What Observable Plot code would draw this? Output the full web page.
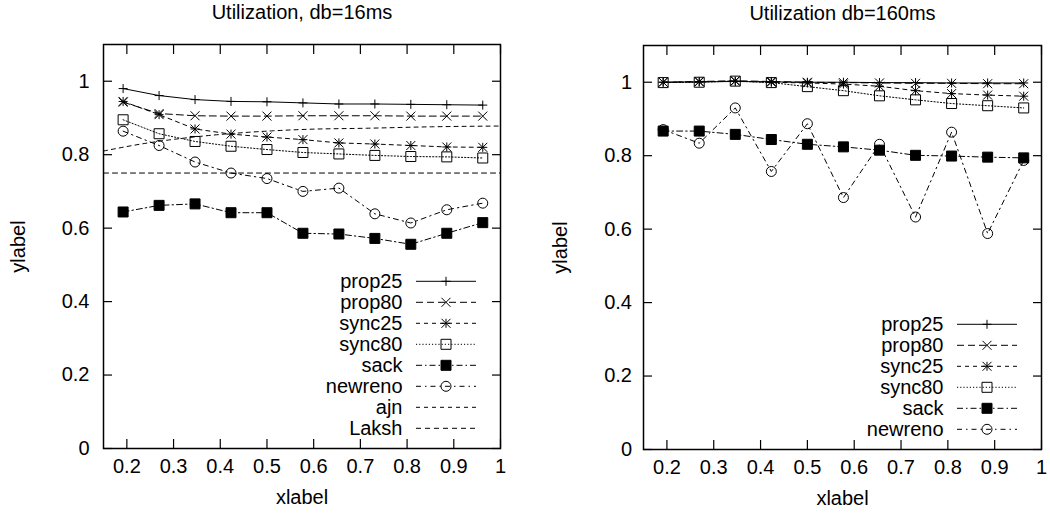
<!DOCTYPE html>
<html><head><meta charset="utf-8">
<script src="https://cdn.jsdelivr.net/npm/d3@7"></script>
<script src="https://cdn.jsdelivr.net/npm/@observablehq/plot@0.6"></script>
<style>
body{margin:0;background:#fff;}
#wrap{position:relative;width:1050px;height:514px;overflow:hidden;}
#wrap > div{position:absolute;top:0;}
</style></head><body>
<div id="wrap"><div id="a" style="left:0"></div><div id="b" style="left:525px"></div></div>
<script>
// ---------- data ----------
const xValues = [0.192, 0.269, 0.346, 0.423, 0.5, 0.577, 0.654, 0.731, 0.808, 0.885, 0.962];
const xTicks = [0.2, 0.3, 0.4, 0.5, 0.6, 0.7, 0.8, 0.9, 1];
const yTicks = [0, 0.2, 0.4, 0.6, 0.8, 1];

// db = 16ms
const prop25_16  = [0.980, 0.961, 0.950, 0.945, 0.944, 0.941, 0.938, 0.938, 0.937, 0.936, 0.935];
const prop80_16  = [0.943, 0.912, 0.906, 0.905, 0.905, 0.906, 0.906, 0.906, 0.905, 0.905, 0.905];
const sync25_16  = [0.945, 0.909, 0.870, 0.856, 0.848, 0.841, 0.832, 0.829, 0.825, 0.821, 0.820];
const sync80_16  = [0.895, 0.857, 0.836, 0.823, 0.814, 0.806, 0.802, 0.798, 0.795, 0.794, 0.791];
const sack_16    = [0.644, 0.662, 0.666, 0.642, 0.642, 0.586, 0.584, 0.572, 0.556, 0.586, 0.615];
const newreno_16 = [0.864, 0.825, 0.780, 0.750, 0.735, 0.700, 0.709, 0.639, 0.614, 0.650, 0.668];
const ajnX  = [0.15, 0.25, 0.343, 0.428, 0.513, 0.585, 0.714, 0.856, 1.0];
const ajnY  = [0.810, 0.833, 0.848, 0.858, 0.865, 0.869, 0.872, 0.876, 0.878];
const lakshX = [0.15, 1.0];
const lakshY = [0.75, 0.75];

// db = 160ms
const prop25_160  = [1.000, 1.001, 1.002, 1.001, 1.000, 1.000, 0.999, 0.999, 0.998, 0.998, 0.998];
const prop80_160  = [1.000, 1.002, 1.004, 1.002, 1.000, 0.999, 0.998, 0.997, 0.997, 0.996, 0.996];
const sync25_160  = [1.000, 1.001, 1.003, 1.000, 0.998, 0.995, 0.989, 0.977, 0.969, 0.965, 0.962];
const sync80_160  = [0.999, 1.000, 1.003, 0.999, 0.988, 0.977, 0.963, 0.952, 0.942, 0.936, 0.930];
const sack_160    = [0.867, 0.867, 0.858, 0.844, 0.831, 0.824, 0.815, 0.801, 0.799, 0.796, 0.794];
const newreno_160 = [0.871, 0.834, 0.930, 0.757, 0.887, 0.686, 0.831, 0.633, 0.864, 0.588, 0.787];

// ---------- styles ----------
const H = 4.5;
const symPlus  = {draw(c){c.moveTo(-H,0);c.lineTo(H,0);c.moveTo(0,-H);c.lineTo(0,H);}};
const symTimes = {draw(c){c.moveTo(-H,-H);c.lineTo(H,H);c.moveTo(-H,H);c.lineTo(H,-H);}};
const symStar  = {draw(c){symPlus.draw(c);symTimes.draw(c);}};
const symSquare= {draw(c){c.rect(-5,-5,10,10);}};
const symCircle= {draw(c){c.moveTo(5,0);c.arc(0,0,5,0,2*Math.PI);}};

const STYLE = {
  prop25:  {dash: null,        sym: symPlus,   fill: "none"},
  prop80:  {dash: "7,4",       sym: symTimes,  fill: "none"},
  sync25:  {dash: "4,4",       sym: symStar,   fill: "none"},
  sync80:  {dash: "1.2,2",     sym: symSquare, fill: "none"},
  sack:    {dash: "6,3,1.5,3", sym: symSquare, fill: "black"},
  newreno: {dash: "5,4,1.5,4", sym: symCircle, fill: "none"},
  ajn:     {dash: "4,4",       sym: null},
  Laksh:   {dash: "5,4",       sym: null}
};
const FONT = "Liberation Sans, Arial, Helvetica, sans-serif";
const FS = 20;

function legendMark(names) {
  return (index, scales, values, dim) => {
    const g = d3.create("svg:g").attr("font-family", FONT).attr("font-size", FS);
    const right = dim.width - dim.marginRight;
    const bottom = dim.height - dim.marginBottom;
    const n = names.length;
    names.forEach((name, i) => {
      const y = bottom - 19.7 - 21 * (n - 1 - i);
      const st = STYLE[name];
      g.append("text").attr("x", right - 97.5).attr("y", y).attr("dy", "0.35em")
        .attr("text-anchor", "end").attr("fill", "black").text(name);
      g.append("line").attr("x1", right - 84).attr("x2", right - 24).attr("y1", y).attr("y2", y)
        .attr("stroke", "black").attr("stroke-width", 1).attr("stroke-dasharray", st.dash);
      if (st.sym) {
        const p = d3.path(); st.sym.draw(p);
        g.append("path").attr("d", p.toString()).attr("transform", `translate(${right - 54},${y})`)
          .attr("fill", st.fill).attr("stroke", "black").attr("stroke-width", 1);
      }
    });
    return g.node();
  };
}

function panel(el, {title, series, extras, width, marginLeft, marginRight, marginTop, marginBottom, ylabDx, ytickPad}) {
  const marks = [];
  for (const [name, xs, ys] of extras) {
    marks.push(Plot.line(ys.map((v, i) => ({x: xs[i], y: v})),
      {x: "x", y: "y", stroke: "black", strokeWidth: 1, strokeDasharray: STYLE[name].dash, curve: "monotone-x"}));
  }
  for (const [name, ys] of series) {
    const rows = ys.map((v, i) => ({x: xValues[i], y: v}));
    const st = STYLE[name];
    marks.push(Plot.line(rows, {x: "x", y: "y", stroke: "black", strokeWidth: 1, strokeDasharray: st.dash}));
    marks.push(Plot.dot(rows, {x: "x", y: "y", symbol: st.sym, r: 5, fill: st.fill, stroke: "black", strokeWidth: 1}));
  }
  marks.push(
    Plot.frame({stroke: "black", strokeWidth: 1.5}),
    Plot.axisX({ticks: xTicks, anchor: "bottom", tickSize: -9, tickPadding: 19, tickFormat: d => String(d), fontSize: FS, fontFamily: FONT, label: null, strokeWidth: 1.2}),
    Plot.axisX({ticks: xTicks, anchor: "top", tickSize: -9, tickFormat: () => "", label: null, strokeWidth: 1.2}),
    Plot.axisY({ticks: yTicks, anchor: "left", tickSize: -9, tickPadding: ytickPad, tickFormat: d => String(d), fontSize: FS, fontFamily: FONT, label: null, strokeWidth: 1.2}),
    Plot.axisY({ticks: yTicks, anchor: "right", tickSize: -9, tickFormat: () => "", label: null, strokeWidth: 1.2}),
    Plot.text([title], {text: d => d, frameAnchor: "top", lineAnchor: "middle", dy: -31.5, fontSize: FS, fontFamily: FONT, fill: "black"}),
    Plot.text(["xlabel"], {text: d => d, frameAnchor: "bottom", lineAnchor: "middle", dy: 49, fontSize: FS, fontFamily: FONT, fill: "black"}),
    Plot.text(["ylabel"], {text: d => d, frameAnchor: "left", textAnchor: "middle", lineAnchor: "middle", dx: ylabDx, rotate: -90, fontSize: FS, fontFamily: FONT, fill: "black"}),
    legendMark([...series.map(s => s[0]), ...extras.map(e => e[0])])
  );
  const chart = Plot.plot({
    width, height: 514, marginLeft, marginRight, marginTop, marginBottom,
    style: {fontFamily: FONT, fontSize: FS + "px", background: "white", color: "black", overflow: "visible"},
    x: {domain: [0.15, 1]},
    y: {domain: [0, 1.1]},
    marks
  });
  el.appendChild(chart);
}

panel(document.getElementById("a"), {
  title: "Utilization, db=16ms",
  series: [["prop25", prop25_16], ["prop80", prop80_16], ["sync25", sync25_16], ["sync80", sync80_16], ["sack", sack_16], ["newreno", newreno_16]],
  extras: [["ajn", ajnX, ajnY], ["Laksh", lakshX, lakshY]],
  width: 525, marginLeft: 103, marginRight: 25, marginTop: 44, marginBottom: 66, ylabDx: -85, ytickPad: 23
});
panel(document.getElementById("b"), {
  title: "Utilization db=160ms",
  series: [["prop25", prop25_160], ["prop80", prop80_160], ["sync25", sync25_160], ["sync80", sync80_160], ["sack", sack_160], ["newreno", newreno_160]],
  extras: [],
  width: 525, marginLeft: 118, marginRight: 9, marginTop: 45, marginBottom: 65, ylabDx: -83, ytickPad: 20.5
});
</script>
</body></html>
